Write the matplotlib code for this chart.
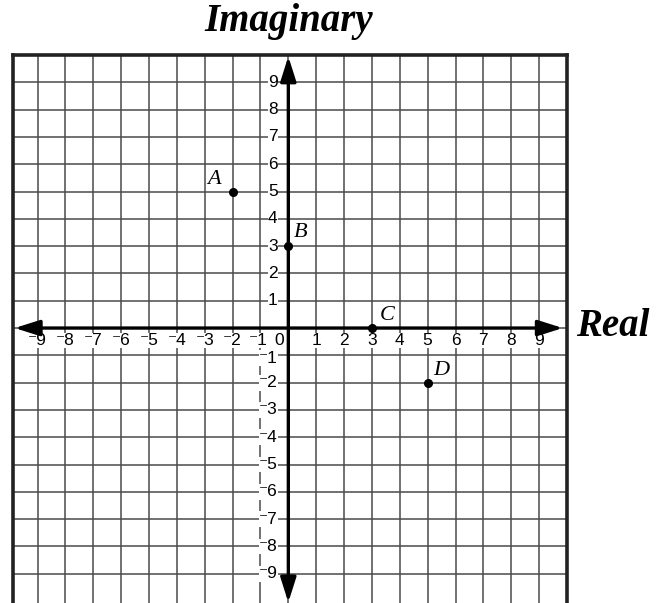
import numpy as np
import matplotlib
matplotlib.use("Agg")
import matplotlib.pyplot as plt

# points on the complex plane
names = ["A", "B", "C", "D"]
re_vals = [-2, 0, 3, 5]
im_vals = [5, 3, 0, -2]
# label offsets (in grid units)
lab_dx = [-0.65, 0.45, 0.55, 0.5]
lab_dy = [0.45, 0.5, 0.45, 0.45]

ticks = [-9, -8, -7, -6, -5, -4, -3, -2, -1, 1, 2, 3, 4, 5, 6, 7, 8, 9]

sans = ["Liberation Sans", "DejaVu Sans"]
serif = ["Liberation Serif", "DejaVu Serif"]


def lbl(v):
    # raised minus like the worksheet
    return ("\u207b%d" % -v) if v < 0 else "%d" % v


W, H = 662, 603
fig = plt.figure(figsize=(W / 100, H / 100), dpi=100)
ax = fig.add_axes([13 / W, 0, 554 / W, 548 / H])
ax.set_xlim(-9.88, 10)
ax.set_ylim(-10.07, 10)

# grid
for g in range(-9, 10):
    ax.axvline(g, color="#4a4a4a", lw=1.1, zorder=1)
    ax.axhline(g, color="#4a4a4a", lw=1.1, zorder=1)

for s in ["top", "left", "right"]:
    ax.spines[s].set_linewidth(2.6)
    ax.spines[s].set_color("#222222")
ax.spines["bottom"].set_visible(False)
ax.set_xticks([])
ax.set_yticks([])

# axes with arrows
ap = dict(arrowstyle="<|-|>,head_length=0.6,head_width=0.19", lw=2.4,
          color="black", mutation_scale=25, shrinkA=0, shrinkB=0)
ax.annotate("", xy=(9.85, 0), xytext=(-9.82, 0), arrowprops=ap, zorder=4)
ax.annotate("", xy=(0, 9.95), xytext=(0, -10.05), arrowprops=ap, zorder=4)

box = dict(facecolor="white", edgecolor="none", pad=0.3)

# x tick labels
for v in ticks:
    xx = v - 0.08 if v == -1 else v
    ax.text(xx, -0.46, lbl(v), ha="center", va="center", fontsize=12.5,
            family=sans, bbox=box, zorder=3)
ax.text(-0.33, -0.46, "0", ha="center", va="center", fontsize=12.5,
        family=sans, bbox=box, zorder=3)

# y tick labels
for v in ticks:
    yy = v - 0.1 if v == -1 else v
    ax.text(-0.38, yy, lbl(v), ha="right", va="center", fontsize=12.5,
            family=sans, bbox=box, zorder=3)

# points
ax.plot(re_vals, im_vals, "o", color="black", ms=5.5, zorder=5)
for n, x, y, dx, dy in zip(names, re_vals, im_vals, lab_dx, lab_dy):
    ax.text(x + dx, y + dy, n, ha="center", va="center", fontsize=16,
            family=serif, style="italic", zorder=5)

fig.text(289 / W, 1 - 22 / H, "Imaginary", ha="center", va="center",
         fontsize=28, family=serif, style="italic", weight="bold")
fig.text(613 / W, 1 - 327 / H, "Real", ha="center", va="center",
         fontsize=28, family=serif, style="italic", weight="bold")

fig.savefig("out.png", dpi=100)
